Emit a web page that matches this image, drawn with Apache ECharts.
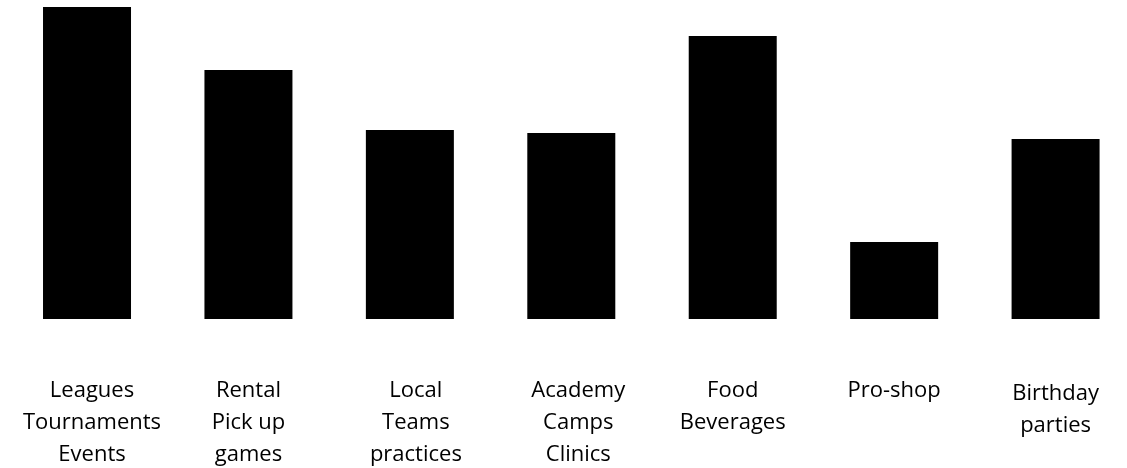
<!DOCTYPE html>
<html>
<head>
<meta charset="utf-8">
<script src="https://cdn.jsdelivr.net/npm/echarts@6/dist/echarts.min.js"></script>
<style>
html,body{margin:0;padding:0;background:#fff;}
#chart{width:1127px;height:468px;}
</style>
</head>
<body>
<div id="chart"></div>
<script>
var categories = [
  'Leagues\nTournaments\nEvents',
  'Rental\nPick up\ngames',
  'Local\nTeams\npractices',
  'Academy\nCamps\nClinics',
  'Food\nBeverages',
  'Pro-shop',
  'Birthday\nparties'
];
var values = [312, 249, 189, 186, 283, 77, 180];

var labelPad = [[0,0,0,10],[0,0,0,0],[0,0,0,12],[0,0,0,14],[0,0,0,0],[0,0,0,0],[3,0,0,0]];

var chart = echarts.init(document.getElementById('chart'));
chart.setOption({
  backgroundColor: '#ffffff',
  animation: false,
  grid: { left: 6.3, top: 0, width: 1130, height: 319, containLabel: false, outerBoundsMode: 'none' },
  xAxis: {
    type: 'category',
    data: categories.map(function (c, i) {
      return { value: c, textStyle: { padding: labelPad[i] } };
    }),
    axisLine: { show: false },
    axisTick: { show: false },
    axisLabel: {
      interval: 0,
      margin: 56,
      color: '#000',
      fontFamily: 'Open Sans',
      fontSize: 22,
      lineHeight: 32,
      verticalAlign: 'top'
    }
  },
  yAxis: {
    type: 'value',
    min: 0,
    max: 319,
    show: false,
    splitLine: { show: false }
  },
  series: [{
    type: 'bar',
    data: values,
    barWidth: 88,
    itemStyle: { color: '#000000' }
  }]
});
</script>
</body>
</html>
